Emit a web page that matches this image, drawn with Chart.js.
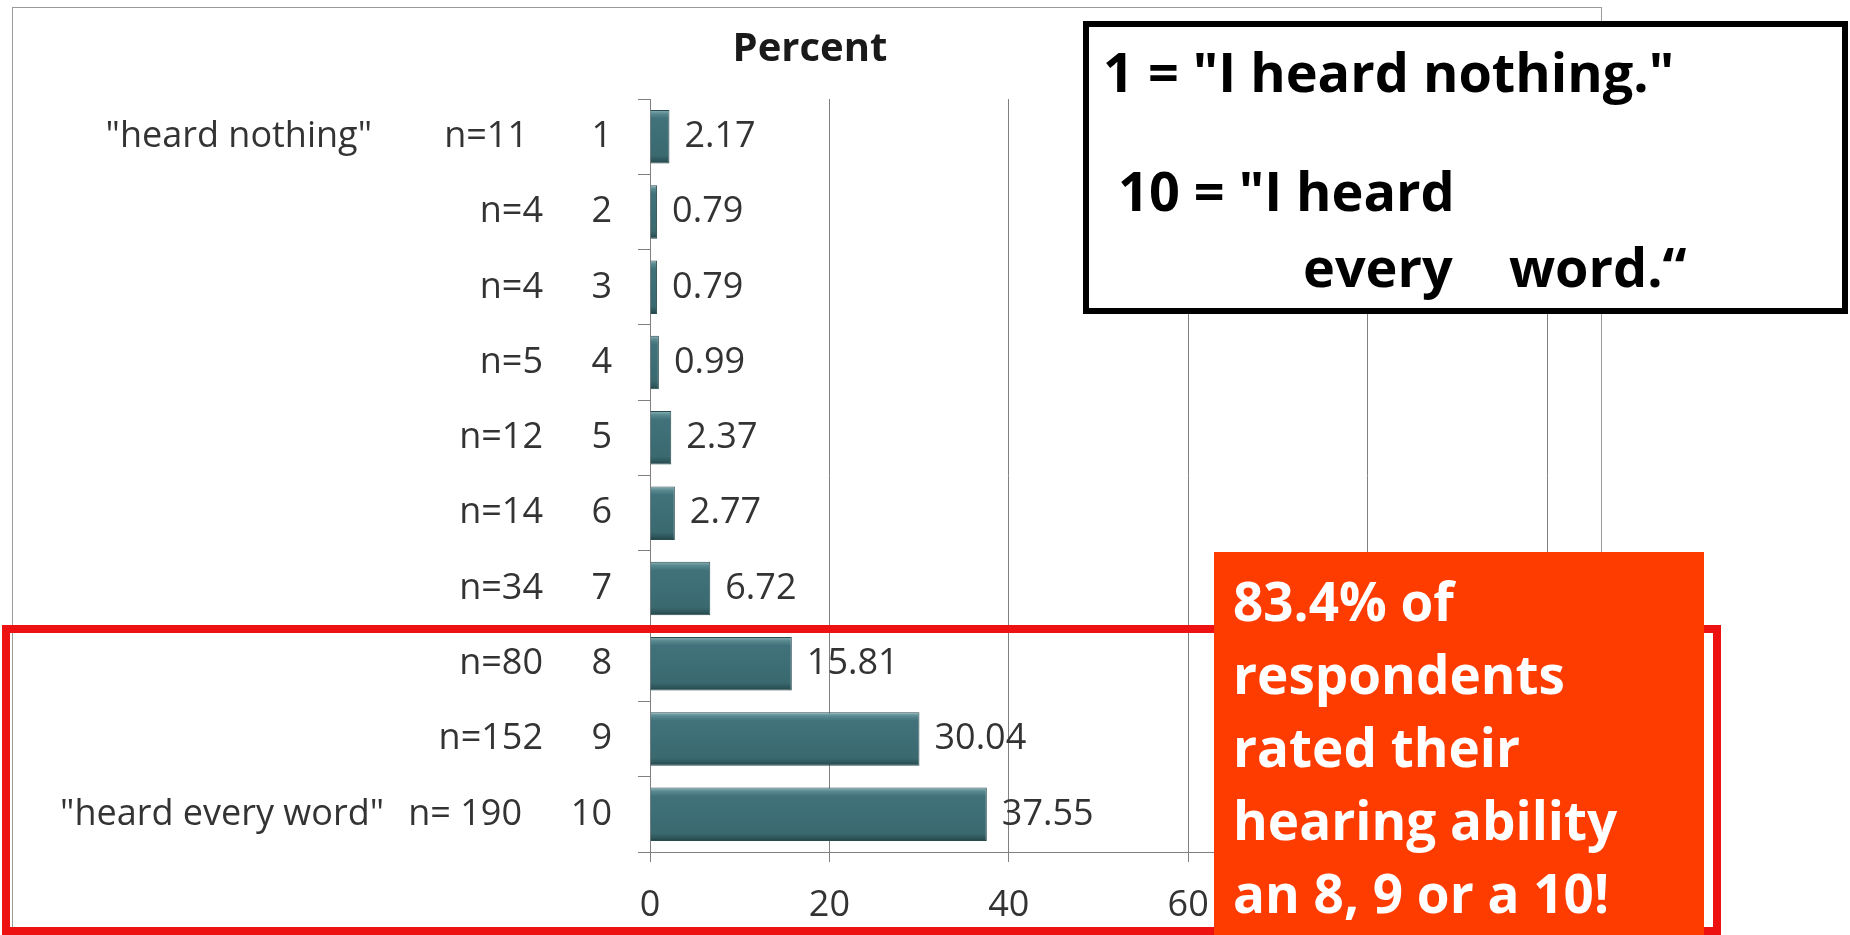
<!DOCTYPE html>
<html>
<head>
<meta charset="utf-8">
<script src="https://cdn.jsdelivr.net/npm/chart.js@4"></script>
<style>
  html, body { margin: 0; padding: 0; background: #fff; }
  #wrap { position: relative; width: 1850px; height: 935px; overflow: hidden; }
  #frame { position: absolute; left: 12px; top: 7px; width: 1590px; height: 1000px; border: 1px solid #9a9a9a; box-sizing: border-box; }
  canvas { position: absolute; left: 0; top: 0; }
  .note { position: absolute; font-family: "Open Sans", sans-serif; font-weight: 700; white-space: pre; }
  #scale { left: 1083px; top: 21px; width: 765px; height: 293px; border: 6px solid #000; background: #fff; box-sizing: border-box; color: #000; font-size: 54px; }
  #scale div { position: absolute; line-height: 1; }
  #outline { position: absolute; left: 2px; top: 625px; width: 1719px; height: 310px; border: 8px solid #ee1111; box-sizing: border-box; }
  #callout { left: 1214px; top: 552px; width: 490px; height: 400px; background: #ff3c00; color: #fff; font-size: 53px; line-height: 73px; padding: 12px 0 0 19px; box-sizing: border-box; }
</style>
</head>
<body>
<div id="wrap">
  <div id="frame"></div>
  <canvas id="hearingChart" width="1850" height="935"></canvas>
  <div id="outline"></div>
  <div class="note" id="scale">
    <div style="left:14px; top:17px;">1 = "I heard nothing."</div>
    <div style="left:29px; top:136px;">10 = "I heard</div>
    <div style="left:214px; top:212px;">every    word.“</div>
  </div>
  <div class="note" id="callout">83.4% of
respondents
rated their
hearing ability
an 8, 9 or a 10!</div>
</div>
<script>
// rating scale 1..10, top to bottom
const ratings = ["1", "2", "3", "4", "5", "6", "7", "8", "9", "10"];
const counts = ["n=11", "n=4", "n=4", "n=5", "n=12", "n=14", "n=34", "n=80", "n=152", "n= 190"];
const descriptions = ["\"heard nothing\"", "", "", "", "", "", "", "", "", "\"heard every word\""];
const percents = [2.17, 0.79, 0.79, 0.99, 2.37, 2.77, 6.72, 15.81, 30.04, 37.55];
const xTicks = [0, 20, 40, 60, 80, 100];

const labelFont = '36px "Open Sans", sans-serif';
const textColor = "#333333";
const barPct = 0.71;

// 3d-ish bevel on each bar, built from the y scale
function barFill(ctx) {
  const chart = ctx.chart;
  const y = chart.scales && chart.scales.y;
  if (!y || !chart.chartArea) return "#3e6d73";
  const c = y.getPixelForValue(ctx.dataIndex);
  const h = (chart.chartArea.bottom - chart.chartArea.top) / ratings.length * barPct;
  const g = chart.ctx.createLinearGradient(0, c - h / 2, 0, c + h / 2);
  g.addColorStop(0, "#8ab2b7");
  g.addColorStop(0.07, "#5a8a90");
  g.addColorStop(0.16, "#41717a");
  g.addColorStop(0.85, "#3a6a70");
  g.addColorStop(0.95, "#2c5459");
  g.addColorStop(1, "#1f3d41");
  return g;
}

// n= counts, descriptions and value labels
const sideLabels = {
  id: "sideLabels",
  afterDatasetsDraw(chart) {
    const { ctx, scales } = chart;
    ctx.save();
    ctx.font = labelFont;
    ctx.fillStyle = textColor;
    ctx.textBaseline = "middle";
    ratings.forEach((r, i) => {
      const y = scales.y.getPixelForValue(i);
      ctx.textAlign = "right";
      ctx.fillText(counts[i], i === 0 ? 528 : (i === 9 ? 522 : 543), y);
      if (descriptions[i]) ctx.fillText(descriptions[i], i === 0 ? 372 : 384, y);
      ctx.textAlign = "left";
      ctx.fillText(percents[i].toFixed(2), scales.x.getPixelForValue(percents[i]) + 15, y);
    });
    ctx.restore();
  }
};

let hearingChart;

function renderHearingChart() {
  const ctx = document.getElementById("hearingChart").getContext("2d");
  if (hearingChart) hearingChart.destroy();

  hearingChart = new Chart(ctx, {
    type: "bar",
    data: {
      labels: ratings,
      datasets: [{
        data: percents,
        backgroundColor: barFill,
        borderColor: "#2a4d52",
        borderWidth: 1,
        borderSkipped: "start",
        categoryPercentage: 1,
        barPercentage: barPct
      }]
    },
    options: {
      indexAxis: "y",
      responsive: false,
      animation: false,
      layout: { padding: { left: 73, right: 303, top: 0, bottom: 0 } },
      plugins: {
        legend: { display: false },
        tooltip: { enabled: false },
        title: {
          display: true,
          text: "Percent",
          color: "#1a1a1a",
          font: { family: "Open Sans", size: 40, weight: "bold" },
          padding: { top: 26, bottom: 25 }
        }
      },
      scales: {
        x: {
          min: 0,
          max: 100,
          afterFit: s => { s.height = 83; },
          afterBuildTicks: s => { s.ticks = xTicks.map(v => ({ value: v })); },
          border: { color: "#808080", width: 1 },
          grid: { color: "#808080", lineWidth: 1, tickLength: 10 },
          ticks: { color: textColor, font: { family: "Open Sans", size: 36 }, padding: 22 }
        },
        y: {
          afterFit: s => { s.width = 577; },
          border: { color: "#808080", width: 1 },
          grid: { drawOnChartArea: false, offset: true, color: "#808080", tickLength: 12 },
          ticks: { color: textColor, font: { family: "Open Sans", size: 36 }, padding: 26 }
        }
      }
    },
    plugins: [sideLabels]
  });
}

window.addEventListener("load", () => {
  renderHearingChart();
});
</script>
</body>
</html>
